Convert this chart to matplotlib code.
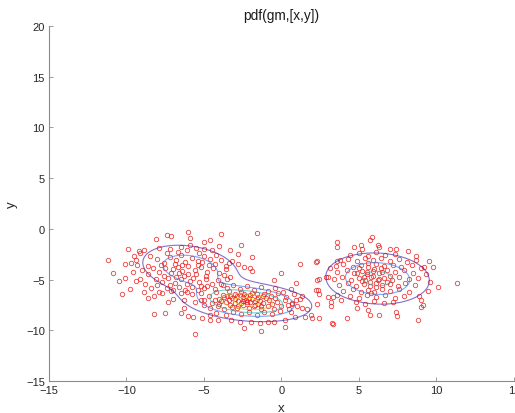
import numpy as np
import matplotlib
matplotlib.use("Agg")
import matplotlib.pyplot as plt
from matplotlib.colors import LinearSegmentedColormap

# ---------------- data ----------------
left_pts = [
    (-8.1,-1.0),(-7.4,-0.6),(-7.1,-0.7),(-6.0,-0.3),(-5.9,-0.9),(-5.0,-1.3),(-4.6,-1.1),(-3.9,-0.5),
    (-9.2,-2.2),(-8.9,-2.1),(-9.1,-2.4),(-9.5,-2.7),(-9.4,-3.1),(-10.1,-3.5),(-9.7,-3.4),(-9.3,-3.6),
    (-10.9,-4.4),(-10.5,-5.1),(-10.1,-4.8),(-9.4,-5.1),(-9.1,-4.9),(-8.6,-3.7),
    (-7.9,-1.9),(-7.2,-2.0),(-6.5,-1.8),(-5.9,-1.6),(-5.5,-1.9),(-5.0,-2.0),(-4.5,-2.1),(-4.0,-1.7),
    (-8.6,-6.8),(-8.2,-6.6),(-8.2,-8.4),(-7.5,-8.3),(-6.5,-8.3),(-6.0,-8.6),(-5.7,-8.7),(-5.6,-10.4),
    (-7.0,-6.9),(-6.3,-7.0),(-6.3,-7.8),(-7.9,-6.2),(-7.7,-6.3),(-7.1,-6.1),(-6.5,-6.3),(-6.1,-6.2),
    (-5.8,-6.4),(-5.6,-7.2),(-5.2,-7.0),(-5.0,-7.5),(-5.1,-8.8),(-4.6,-9.0),(-4.6,-8.5),(-4.1,-9.0),
    (-8.0,-3.0),(-7.6,-3.4),(-7.2,-2.8),(-6.8,-3.1),(-6.5,-2.6),(-6.2,-3.3),(-5.8,-2.9),(-5.4,-3.2),
    (-5.0,-2.7),(-4.6,-3.0),(-4.3,-3.5),(-3.9,-3.1),
    (-8.3,-3.9),(-7.9,-4.3),(-7.5,-3.9),(-7.1,-4.4),(-6.7,-3.8),(-6.4,-4.2),(-6.0,-3.7),(-5.6,-4.1),
    (-5.2,-3.8),(-4.8,-4.3),(-4.4,-3.9),(-4.0,-4.4),(-3.6,-4.0),
    (-8.1,-4.9),(-7.7,-5.2),(-7.3,-4.8),(-6.9,-5.3),(-6.5,-4.9),(-6.1,-5.4),(-5.7,-4.8),(-5.3,-5.2),
    (-4.9,-4.9),(-4.5,-5.4),(-4.1,-5.0),
    (-7.4,-5.8),(-7.0,-6.0),(-6.6,-5.7),(-6.2,-6.0),(-5.8,-5.7),(-5.4,-6.0),(-5.0,-5.8),
    (-6.9,-3.5),(-6.3,-4.6),(-5.5,-4.5),(-7.8,-3.6),(-4.7,-3.6),(-6.0,-4.5),(-5.9,-5.1),(-6.6,-4.4),
    (-7.2,-5.5),(-8.6,-4.5),(-8.8,-5.4),(-9.0,-4.1),(-8.4,-5.8),
    (-6.7,-2.3),(-5.3,-2.4),(-4.2,-2.6),(-3.4,-3.4),(-3.3,-4.7),(-7.4,-2.4),(-8.5,-2.7),(-6.1,-2.1),
    (-5.1,-3.3),(-6.4,-3.6),(-7.0,-4.0),(-5.4,-3.6),(-4.9,-4.6),(-6.8,-4.7),(-7.6,-4.6),(-5.2,-5.6),
    (-3.8,-5.5),(-8.0,-5.5),(-9.6,-4.3),(-9.8,-5.9),(-10.3,-6.4),(-8.9,-6.2),(-7.3,-7.2),(-11.2,-3.1),
    (-9.9,-2.0),
]
mid_pts = [
    (-1.6,-0.4),(-3.3,-2.1),(-2.6,-1.6),(-2.8,-2.5),(-1.9,-2.8),(-3.2,-3.2),(-2.8,-3.5),(-2.4,-3.8),
    (-2.0,-3.9),(-1.9,-4.2),(0.0,-4.4),(1.2,-3.5),(2.2,-3.3),(2.3,-3.2),(0.95,-5.3),(-0.5,-5.05),
    (2.3,-5.05),(2.9,-4.7),(-3.6,-3.7),(-3.7,-4.55),(-3.5,-4.9),
    (2.2,-6.0),(2.45,-6.4),(2.3,-7.4),(2.45,-8.8),(3.0,-6.7),(3.2,-7.6),(3.25,-9.3),(1.5,-8.7),
    (1.9,-8.5),(2.0,-8.8),(1.3,-7.8),(1.65,-7.9),(0.95,-7.0),(1.2,-6.9),(0.2,-9.0),(0.2,-9.7),
    (-1.35,-10.1),(-2.4,-9.8),(-1.4,-9.3),(-0.9,-9.2),(-0.45,-9.2),(-3.25,-9.0),(-2.7,-9.2),
    (-1.95,-9.2),(0.85,-8.7),(0.6,-8.2),(0.4,-7.5),(0.7,-7.4),
    (-4.8,-5.6),(-4.3,-5.9),(-3.9,-5.4),(-3.5,-5.8),(-3.1,-5.5),(-2.7,-5.9),(-2.2,-5.6),(-1.8,-6.0),
    (-1.3,-5.7),(-0.9,-6.1),(-0.4,-5.8),(0.1,-6.2),(0.6,-5.9),
    (-5.2,-6.3),(-4.7,-6.6),(-4.2,-6.2),(-3.8,-6.5),(-3.4,-6.1),(-3.0,-6.4),(-2.6,-6.2),(-2.3,-6.6),
    (-1.9,-6.3),(-1.5,-6.7),(-1.1,-6.4),(-0.7,-6.6),(-0.2,-6.3),(0.3,-6.7),(0.8,-6.4),(1.3,-6.6),
    (-5.0,-7.0),(-4.5,-7.3),(-4.0,-6.9),(-3.6,-7.2),(-3.2,-6.8),(-2.8,-7.1),(-2.4,-6.9),(-2.0,-7.2),
    (-1.6,-6.9),(-1.2,-7.3),(-0.8,-7.0),(-0.3,-7.2),(0.2,-7.0),(0.7,-7.3),
    (-4.6,-7.8),(-4.1,-7.6),(-3.7,-7.9),(-3.3,-7.5),(-2.9,-7.8),(-2.5,-7.5),(-2.1,-7.8),(-1.7,-7.5),
    (-1.3,-7.9),(-0.9,-7.6),(-0.5,-7.9),(0.0,-7.6),(0.5,-7.9),(1.0,-7.6),
    (-4.2,-8.3),(-3.6,-8.5),(-3.1,-8.2),(-2.6,-8.4),(-2.1,-8.2),(-1.6,-8.5),(-1.1,-8.2),(-0.6,-8.4),
    (-0.1,-8.1),
    (-3.3,-6.6),(-2.9,-6.6),(-2.5,-6.7),(-2.1,-6.8),(-1.7,-7.1),(-3.4,-7.0),(-3.0,-7.3),(-2.6,-7.3),
    (-2.2,-7.4),(-1.8,-7.6),(-1.4,-7.1),(-1.0,-6.8),(-3.9,-7.1),(-2.7,-6.5),(-2.3,-7.0),(-1.9,-6.9),
    (-1.5,-7.4),(-3.5,-6.6),(-2.0,-6.5),(-2.8,-7.6),(-3.2,-7.7),(-1.2,-6.6),(-0.6,-7.4),(-4.3,-7.0),
    (-4.0,-7.4),(-3.7,-6.7),(-2.4,-6.4),(-1.6,-6.4),(-0.4,-6.8),(-3.0,-6.9),(-2.5,-7.1),(-2.2,-7.2),
    (-1.3,-7.6),
]
right_pts = [
    (3.6,-1.3),(3.6,-1.75),(5.7,-1.1),(5.85,-0.8),(6.2,-1.6),(6.3,-1.75),(4.7,-1.75),(5.1,-1.6),
    (5.2,-2.0),(7.0,-2.0),(7.4,-2.0),(8.15,-2.2),(8.65,-3.1),(9.55,-3.2),(9.0,-3.9),(9.2,-3.8),
    (9.45,-6.1),(11.3,-5.3),(9.0,-7.0),(9.1,-7.5),(8.8,-9.0),(6.3,-8.5),(7.4,-8.2),(7.45,-8.6),
    (5.6,-8.0),(5.7,-8.45),(4.2,-8.8),(3.3,-9.4),(4.9,-7.85),(2.4,-4.9),(2.35,-6.0),(3.1,-3.9),
    (3.0,-4.7),(3.3,-6.7),(3.2,-7.2),(3.6,-3.2),(3.85,-7.0),(3.6,-6.5),
    (4.4,-2.6),(5.0,-2.4),(5.6,-2.7),(6.1,-2.3),(6.7,-2.6),(7.3,-2.5),
    (3.8,-3.1),(4.3,-3.0),(4.9,-3.2),(5.4,-2.9),(5.9,-3.1),(6.4,-2.9),(7.0,-3.2),(7.6,-3.0),(8.1,-3.3),
    (3.5,-3.7),(4.0,-3.5),(4.6,-3.8),(5.1,-3.6),(5.6,-3.8),(6.1,-3.5),(6.6,-3.7),(7.2,-3.6),(7.7,-3.8),
    (8.4,-3.6),
    (3.6,-4.3),(4.2,-4.1),(4.7,-4.4),(5.2,-4.2),(5.5,-4.5),(5.9,-4.2),(6.3,-4.4),(6.8,-4.1),(7.3,-4.3),
    (7.9,-4.1),(8.5,-4.4),
    (3.4,-4.9),(3.9,-4.7),(4.5,-5.0),(5.0,-4.8),(5.4,-5.0),(5.8,-4.7),(6.2,-5.0),(6.6,-4.8),(7.1,-5.0),
    (7.6,-4.7),(8.2,-4.9),(8.8,-4.8),
    (3.7,-5.5),(4.3,-5.3),(4.8,-5.6),(5.3,-5.4),(5.7,-5.6),(6.1,-5.3),(6.5,-5.5),(7.0,-5.4),(7.5,-5.6),
    (8.0,-5.3),(8.6,-5.5),
    (4.0,-6.1),(4.6,-5.9),(5.1,-6.2),(5.6,-6.0),(6.0,-6.2),(6.5,-5.9),(7.0,-6.1),(7.6,-5.9),(8.2,-6.2),
    (4.4,-6.6),(5.0,-6.8),(5.5,-6.5),(6.1,-6.7),(6.7,-6.5),(7.3,-6.8),(7.9,-6.6),
    (4.8,-7.2),(5.4,-7.4),(6.0,-7.1),(6.6,-7.3),(7.2,-7.2),
    (5.5,-4.3),(5.9,-4.6),(6.3,-4.9),(5.7,-5.2),(6.0,-4.0),(5.3,-4.7),(6.5,-4.3),(5.6,-3.4),(6.8,-5.2),
    (4.9,-4.4),(6.1,-5.7),(5.2,-5.1),(6.4,-3.9),(5.0,-3.9),(7.0,-4.6),(5.8,-6.3),
    (9.3,-4.5),(9.6,-5.2),(8.9,-6.6),(9.8,-3.8),(10.1,-5.7),(8.7,-2.7),(9.0,-7.7),
]

# Gaussian mixture parameters
gm_weights = [0.26, 0.40, 0.34]
gm_means = [(-5.9, -3.9), (-2.2, -7.2), (6.2, -4.9)]
gm_covs = [[[3.2, -0.6], [-0.6, 1.8]],
           [[4.0, -0.45], [-0.45, 0.9]],
           [[3.5, -0.2], [-0.2, 2.0]]]
level_fracs = [0.12, 0.32, 0.52, 0.72, 0.92]

title_text = "pdf(gm,[x,y])"
x_label, y_label = "x", "y"
x_ticks = [-15, -10, -5, 0, 5, 10, 15]
y_ticks = [-15, -10, -5, 0, 5, 10, 15, 20]

# ---------------- plotting ----------------
plt.rcParams['font.family'] = ['Liberation Sans', 'DejaVu Sans']

fig = plt.figure(figsize=(5.15, 4.14), dpi=100)
ax = fig.add_axes([0.0951, 0.0773, 0.9029, 0.8575])

pts = np.array(left_pts + mid_pts + right_pts)
ax.plot(pts[:, 0], pts[:, 1], 'o', ls='none', mfc='none', mec=(0.92, 0.12, 0.12),
        ms=3.2, mew=0.6, alpha=0.85, zorder=2)

gx = np.linspace(-15, 15, 400)
gy = np.linspace(-15, 20, 460)
X, Y = np.meshgrid(gx, gy)
Z = np.zeros_like(X)
for w, m, c in zip(gm_weights, gm_means, gm_covs):
    c = np.array(c)
    inv = np.linalg.inv(c)
    dx = X - m[0]
    dy = Y - m[1]
    q = inv[0, 0] * dx * dx + 2 * inv[0, 1] * dx * dy + inv[1, 1] * dy * dy
    Z += w * np.exp(-0.5 * q) / (2 * np.pi * np.sqrt(np.linalg.det(c)))

parula = LinearSegmentedColormap.from_list('parula', [
    (0.2422, 0.1504, 0.6603), (0.2810, 0.3228, 0.9578), (0.1786, 0.5289, 0.9682),
    (0.0689, 0.6948, 0.8394), (0.2161, 0.7843, 0.5923), (0.6720, 0.7793, 0.2227),
    (0.9970, 0.7659, 0.2199), (0.9769, 0.9839, 0.0805)])
levels = [f * Z.max() for f in level_fracs]
ax.contour(X, Y, Z, levels=levels, cmap=parula, linewidths=0.8, alpha=0.65, zorder=3)

ax.set_xlim(-15, 15)
ax.set_ylim(-15, 20)
ax.set_xticks(x_ticks)
ax.set_yticks(y_ticks)
for s in ['top', 'right']:
    ax.spines[s].set_visible(False)
for s in ['left', 'bottom']:
    ax.spines[s].set_color('#8c8c8c')
    ax.spines[s].set_linewidth(0.8)
ax.tick_params(direction='in', length=3, width=0.6, color='#8c8c8c',
               labelsize=8, labelcolor='#262626', pad=3)
ax.set_title(title_text, fontsize=9.8, color='#1a1a1a', pad=5)
ax.set_xlabel(x_label, fontsize=9.5, color='#262626', labelpad=5)
ax.set_ylabel(y_label, fontsize=9.5, color='#262626', labelpad=6)

fig.savefig('out.png', dpi=100)
